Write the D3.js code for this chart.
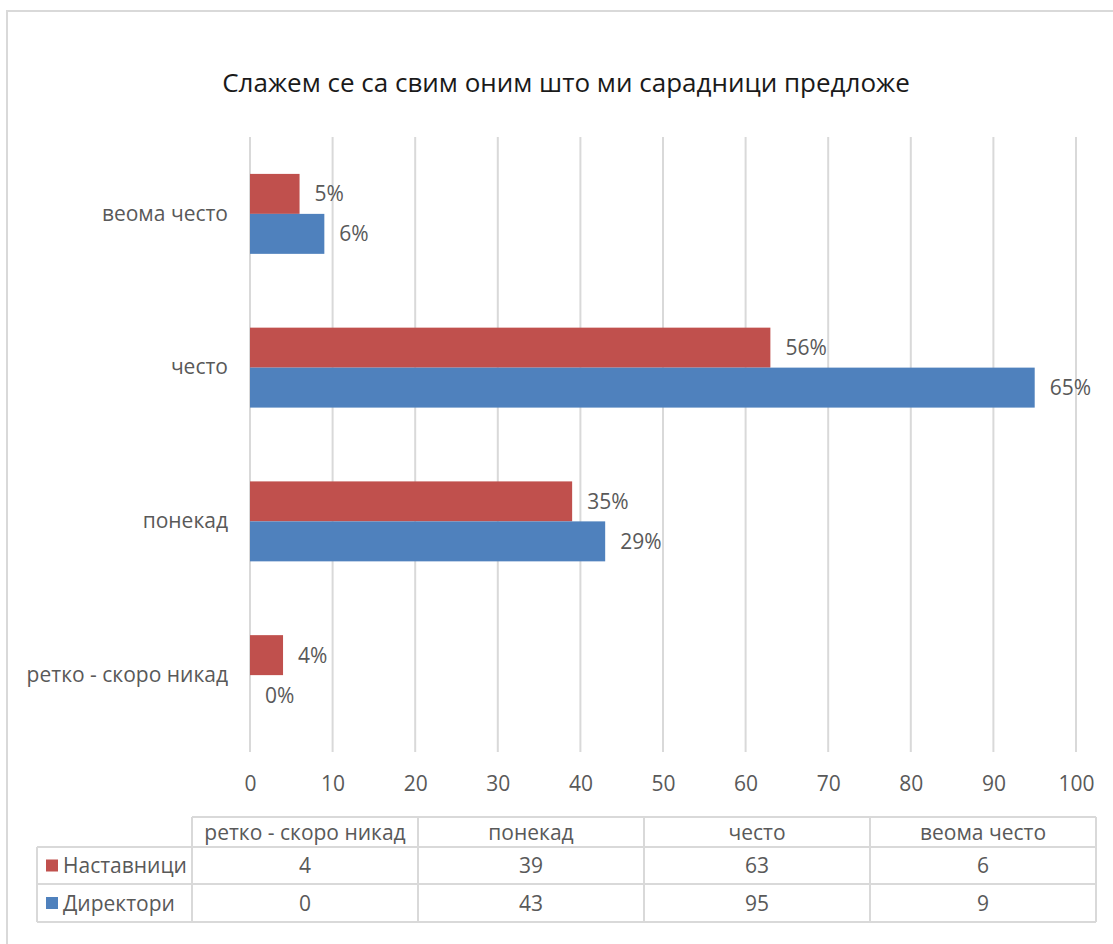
<!DOCTYPE html>
<html>
<head>
<meta charset="utf-8">
<script src="https://cdn.jsdelivr.net/npm/d3@7"></script>
<style>
  body { margin: 0; background: #fff; }
  text { font-family: "Open Sans", "Noto Sans", sans-serif; }
</style>
</head>
<body>
<svg id="chart" width="1113" height="944"></svg>
<script>
// Survey answers: "I agree with everything my colleagues propose"
const categories = ["ретко - скоро никад", "понекад", "често", "веома често"];
const seriesNames = ["Наставници", "Директори"];
const teachers = [4, 39, 63, 6];
const principals = [0, 43, 95, 9];
const xTickValues = [0, 10, 20, 30, 40, 50, 60, 70, 80, 90, 100];
const seriesColors = ["#C0504D", "#4F81BD"];
const chartTitle = "Слажем се са свим оним што ми сарадници предложе";

const series = [
  { name: seriesNames[0], values: teachers, color: seriesColors[0] },
  { name: seriesNames[1], values: principals, color: seriesColors[1] }
];
series.forEach(s => { s.total = d3.sum(s.values); });

const svg = d3.select("#chart");
const gray = "#595959";
const lineGray = "#d9d9d9";
const fs = 21;

// outer chart frame
svg.append("rect")
  .attr("x", 7).attr("y", 11)
  .attr("width", 1130).attr("height", 960)
  .attr("fill", "none").attr("stroke", lineGray).attr("stroke-width", 2);

// title
svg.append("text")
  .attr("x", 566).attr("y", 92)
  .attr("text-anchor", "middle")
  .attr("font-size", 26)
  .attr("fill", "#1a1a1a")
  .text(chartTitle);

const plot = { left: 250, right: 1076, top: 137, bottom: 752 };

const x = d3.scaleLinear().domain([0, 100]).range([plot.left, plot.right]);

// first category at the bottom of the plot
const y = d3.scaleBand()
  .domain(categories.slice().reverse())
  .range([plot.top, plot.bottom])
  .paddingInner(0.48)
  .paddingOuter(0.24);

const ySub = d3.scaleBand()
  .domain(seriesNames)
  .range([0, y.bandwidth()]);

// vertical gridlines
svg.append("g")
  .selectAll("line")
  .data(xTickValues)
  .join("line")
  .attr("x1", d => x(d)).attr("x2", d => x(d))
  .attr("y1", plot.top).attr("y2", plot.bottom)
  .attr("stroke", lineGray).attr("stroke-width", 2);

// x axis tick labels
const xAxis = d3.axisBottom(x).tickValues(xTickValues).tickSize(0).tickPadding(0);
const gx = svg.append("g")
  .attr("transform", `translate(0,${plot.bottom + 24})`)
  .call(xAxis);
gx.select(".domain").remove();
gx.selectAll("text")
  .attr("font-size", fs)
  .attr("fill", gray)
  .attr("dy", "0.71em")
  .attr("font-family", "'Open Sans', sans-serif");

// category labels
const yAxis = d3.axisLeft(y).tickSize(0).tickPadding(22);
const gy = svg.append("g")
  .attr("transform", `translate(${plot.left},0)`)
  .call(yAxis);
gy.select(".domain").remove();
gy.selectAll("text")
  .attr("font-size", fs)
  .attr("fill", gray)
  .attr("font-family", "'Open Sans', sans-serif");

// bars and percentage labels
series.forEach(s => {
  const g = svg.append("g");
  const rows = categories.map((c, i) => ({ cat: c, value: s.values[i] }));
  g.selectAll("rect")
    .data(rows)
    .join("rect")
    .attr("x", x(0))
    .attr("y", d => y(d.cat) + ySub(s.name))
    .attr("width", d => x(d.value) - x(0))
    .attr("height", ySub.bandwidth())
    .attr("fill", s.color);
  g.selectAll("text")
    .data(rows)
    .join("text")
    .attr("x", d => x(d.value) + 15)
    .attr("y", d => y(d.cat) + ySub(s.name) + ySub.bandwidth() / 2)
    .attr("dy", "0.36em")
    .attr("font-size", fs)
    .attr("fill", gray)
    .text(d => Math.round(d.value / s.total * 100) + "%");
});

// data table below the axis
const table = { left: 37, colStart: 192, right: 1096, top: 817, rows: [847, 884, 922] };
const colX = d3.scaleBand()
  .domain(categories)
  .range([table.colStart, table.right]);

const tg = svg.append("g")
  .attr("stroke", lineGray).attr("stroke-width", 2).attr("fill", "none");
// header row outline
tg.append("line").attr("x1", table.colStart).attr("x2", table.right).attr("y1", table.top).attr("y2", table.top);
// horizontal row lines
table.rows.forEach(yy => {
  tg.append("line").attr("x1", table.left).attr("x2", table.right).attr("y1", yy).attr("y2", yy);
});
// vertical lines
tg.append("line").attr("x1", table.left).attr("x2", table.left).attr("y1", table.rows[0]).attr("y2", table.rows[2]);
categories.forEach(c => {
  tg.append("line").attr("x1", colX(c)).attr("x2", colX(c)).attr("y1", table.top).attr("y2", table.rows[2]);
});
tg.append("line").attr("x1", table.right).attr("x2", table.right).attr("y1", table.top).attr("y2", table.rows[2]);

// header labels
svg.append("g").selectAll("text")
  .data(categories)
  .join("text")
  .attr("x", d => colX(d) + colX.bandwidth() / 2)
  .attr("y", (table.top + table.rows[0]) / 2)
  .attr("dy", "0.36em")
  .attr("text-anchor", "middle")
  .attr("font-size", fs)
  .attr("fill", gray)
  .text(d => d);

// series rows
series.forEach((s, si) => {
  const y0 = table.rows[si], y1 = table.rows[si + 1];
  const cy = (y0 + y1) / 2;
  svg.append("rect")
    .attr("x", 46).attr("y", cy - 6)
    .attr("width", 12).attr("height", 12)
    .attr("fill", s.color);
  svg.append("text")
    .attr("x", 63).attr("y", cy)
    .attr("dy", "0.36em")
    .attr("font-size", fs)
    .attr("fill", gray)
    .text(s.name);
  svg.append("g").selectAll("text")
    .data(categories.map((c, i) => ({ cat: c, value: s.values[i] })))
    .join("text")
    .attr("x", d => colX(d.cat) + colX.bandwidth() / 2)
    .attr("y", cy)
    .attr("dy", "0.36em")
    .attr("text-anchor", "middle")
    .attr("font-size", fs)
    .attr("fill", gray)
    .text(d => d.value);
});
</script>
</body>
</html>
